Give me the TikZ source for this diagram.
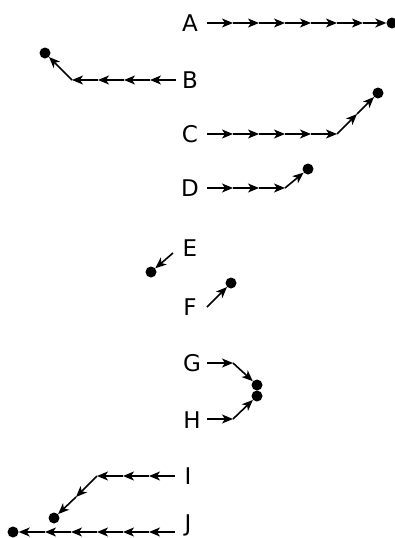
\documentclass[tikz,border=0pt]{standalone}
\usepackage{fontspec}
\setmainfont{DejaVu Sans}
\usetikzlibrary{arrows.meta}
\begin{document}
\begin{tikzpicture}[x=1pt,y=-1pt,
  seg/.style={line width=1.6pt,-{Stealth[length=11pt,width=9pt,inset=3pt]}},
  lbl/.style={font=\fontsize{23}{23}\selectfont,inner sep=0pt,anchor=center},
  dot/.style={circle,fill=black,inner sep=0pt,minimum size=11pt}]
\useasboundingbox (0,0) rectangle (395,538);
% A
\node[lbl] (A) at (190,23) {A};
\foreach \k in {0,...,6}{\coordinate (a\k) at (207+26*\k,23);}
\node[dot] (dA) at (392,23) {};
\foreach \k [evaluate=\k as \n using int(\k+1)] in {0,...,5}{\draw[seg] (a\k) -- (a\n);}
\draw[seg] (a6) -- (dA);
% B
\node[lbl] (B) at (190,80) {B};
\foreach \k in {0,...,4}{\coordinate (b\k) at (176-26*\k,80);}
\node[dot] (dB) at (45,53) {};
\foreach \k [evaluate=\k as \n using int(\k+1)] in {0,...,3}{\draw[seg] (b\k) -- (b\n);}
\draw[seg] (b4) -- (dB);
% C
\node[lbl] (C) at (190,134) {C};
\foreach \k in {0,...,5}{\coordinate (c\k) at (207+26*\k,134);}
\coordinate (c6) at (357,114);
\node[dot] (dC) at (378,93) {};
\foreach \k [evaluate=\k as \n using int(\k+1)] in {0,...,5}{\draw[seg] (c\k) -- (c\n);}
\draw[seg] (c6) -- (dC);
% D
\node[lbl] (D) at (190,188) {D};
\foreach \k in {0,...,3}{\coordinate (d\k) at (207+26*\k,188);}
\node[dot] (dD) at (308,169) {};
\foreach \k [evaluate=\k as \n using int(\k+1)] in {0,...,2}{\draw[seg] (d\k) -- (d\n);}
\draw[seg] (d3) -- (dD);
% E
\node[lbl] (E) at (190,248) {E};
\coordinate (e0) at (173,253);
\node[dot] (dE) at (151,272) {};
\draw[seg] (e0) -- (dE);
% F
\node[lbl] (F) at (190,307) {F};
\coordinate (f0) at (207,307);
\node[dot] (dF) at (231,283) {};
\draw[seg] (f0) -- (dF);
% G
\node[lbl] (G) at (192,363) {G};
\coordinate (g0) at (207,363);
\coordinate (g1) at (233,363);
\node[dot] (dG) at (257,385) {};
\draw[seg] (g0) -- (g1);
\draw[seg] (g1) -- (dG);
% H
\node[lbl] (H) at (192,420) {H};
\coordinate (h0) at (207,419);
\coordinate (h1) at (233,419);
\node[dot] (dH) at (257,396) {};
\draw[seg] (h0) -- (h1);
\draw[seg] (h1) -- (dH);
% I
\node[lbl] (I) at (188,476) {I};
\foreach \k in {0,...,3}{\coordinate (i\k) at (175-26*\k,476);}
\coordinate (i4) at (76,497);
\node[dot] (dI) at (54,518) {};
\foreach \k [evaluate=\k as \n using int(\k+1)] in {0,...,3}{\draw[seg] (i\k) -- (i\n);}
\draw[seg] (i4) -- (dI);
% J
\node[lbl] (J) at (188,525) {J};
\foreach \k in {0,...,5}{\coordinate (j\k) at (175-26*\k,532);}
\node[dot] (dJ) at (13,532) {};
\foreach \k [evaluate=\k as \n using int(\k+1)] in {0,...,4}{\draw[seg] (j\k) -- (j\n);}
\draw[seg] (j5) -- (dJ);
\end{tikzpicture}
\end{document}
